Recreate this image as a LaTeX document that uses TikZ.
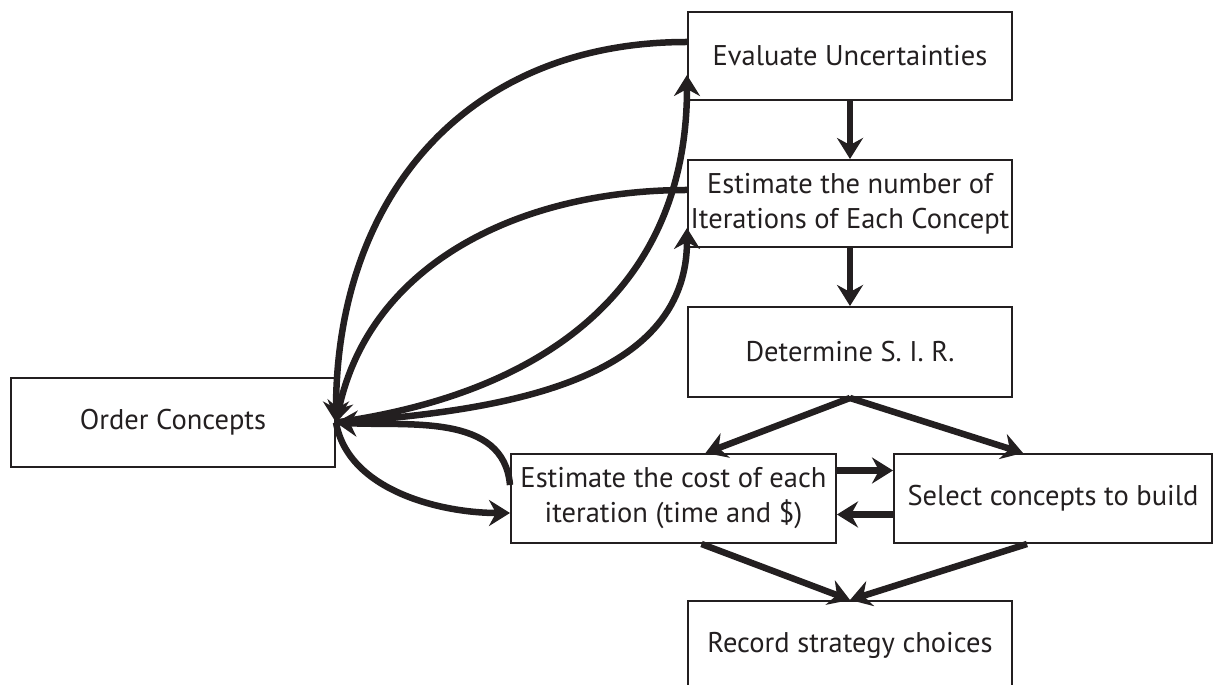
\documentclass[tikz,border=0pt]{standalone}
\usepackage{fontspec}
\setmainfont{PT Sans}
\usetikzlibrary{arrows.meta,calc}
\definecolor{ink}{HTML}{231F20}

\begin{document}
\begin{tikzpicture}[x=1pt,y=1pt,
	box/.style={draw=ink, line width=2pt, minimum width=324pt, minimum height=88pt,
		align=center, inner sep=0pt, text=ink, font=\fontsize{28.5}{35}\selectfont},
	flow/.style={draw=ink, line width=6.5pt, -{Stealth[length=21pt,width=26pt,inset=7pt]}}]
	\useasboundingbox (0,0) rectangle (1213,685);
	
	\node[box] (eval) at (850,629) {Evaluate Uncertainties};
	\node[box, minimum height=87pt] (number) at (850,481.5) {Estimate the number of\\Iterations of Each Concept};
	\node[box, minimum height=90pt] (sir) at (850,333) {Determine S. I. R.};
	\node[box, minimum height=89pt] (order) at (173,262.5) {Order Concepts};
	\node[box, minimum width=325pt, minimum height=89pt] (cost) at (673.5,186.5) {Estimate the cost of each\\iteration (time and \$)};
	\node[box, minimum width=318pt, minimum height=89pt] (select) at (1053,186.5) {Select concepts to build};
	\node[box] (record) at (850,40) {Record strategy choices};
	
	\draw[flow] (eval.south) -- (number.north);
	\draw[flow] (number.south) -- (sir.north);
	\draw[flow] (sir.south) -- ([xshift=32pt]cost.north);
	\draw[flow] (sir.south) -- ([xshift=-30pt]select.north);
	\draw[flow] ([yshift=28pt]cost.east) -- ([yshift=28pt]select.west);
	\draw[flow] ([yshift=-16pt]select.west) -- ([yshift=-16pt]cost.east);
	\draw[flow] ([xshift=28pt]cost.south) -- (record.north);
	\draw[flow] ([xshift=-26pt]select.south) -- (record.north);
	
	\draw[flow] ([yshift=14pt]eval.west) to[out=180, in=90, looseness=1.1] (order.east);
	\draw[flow] (order.east) to[out=8, in=-90, looseness=1.1] ([yshift=-19pt]eval.west);
	\draw[flow] ([yshift=13.5pt]number.west) to[out=180, in=78, looseness=1] (order.east);
	\draw[flow] (order.east) to[out=4, in=-90, looseness=1] ([yshift=-24.5pt]number.west);
	\draw[flow] ([yshift=13.5pt]cost.west) to[out=95, in=-3, looseness=1] (order.east);
	\draw[flow] (order.east) to[out=-80, in=180, looseness=0.9] ([yshift=-14.5pt]cost.west);
\end{tikzpicture}
\end{document}
